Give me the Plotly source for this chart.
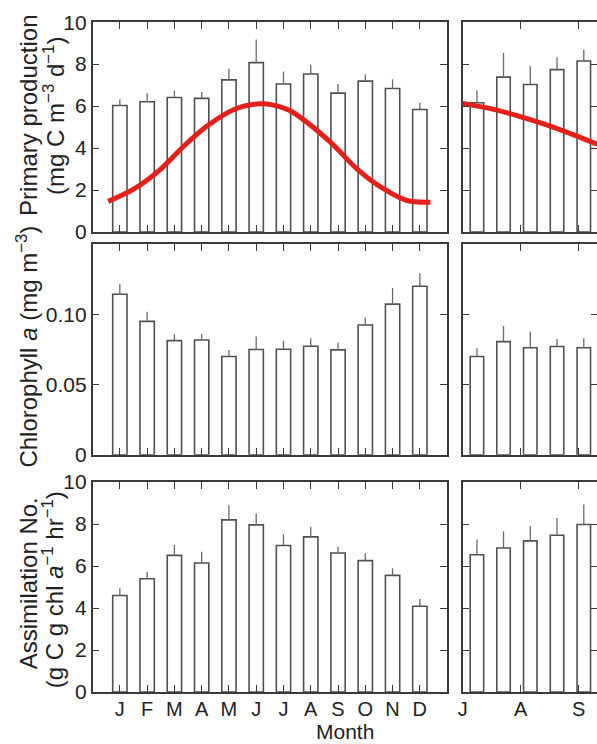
import plotly.graph_objects as go

# ---------------- data ----------------
months = ["J", "F", "M", "A", "M", "J", "J", "A", "S", "O", "N", "D"]
month_pos = list(range(1, 13))

pp_month = [6.03, 6.21, 6.41, 6.37, 7.25, 8.07, 7.05, 7.53, 6.62, 7.19, 6.84, 5.84]
pp_month_err = [0.30, 0.40, 0.33, 0.30, 0.54, 1.10, 0.60, 0.44, 0.43, 0.33, 0.44, 0.32]
pp_fit_x = [0.57, 1.52, 2.50, 3.36, 4.21, 5.19, 6.16, 7.14, 7.63, 8.73, 9.70, 10.68, 11.53, 12.39]
pp_fit_y = [1.46, 2.05, 3.00, 4.11, 5.06, 5.84, 6.11, 5.84, 5.45, 4.27, 3.00, 2.05, 1.50, 1.42]

chl_month = [0.1143, 0.0950, 0.0813, 0.0818, 0.0700, 0.0750, 0.0752, 0.0773, 0.0747, 0.0924, 0.1073, 0.1200]
chl_month_err = [0.0076, 0.0068, 0.0045, 0.0043, 0.0047, 0.0092, 0.0060, 0.0057, 0.0052, 0.0052, 0.0115, 0.0094]

an_month = [4.60, 5.40, 6.51, 6.15, 8.20, 7.96, 6.98, 7.39, 6.62, 6.26, 5.56, 4.09]
an_month_err = [0.35, 0.33, 0.49, 0.53, 0.70, 0.54, 0.54, 0.48, 0.30, 0.35, 0.34, 0.34]

# right-hand panels: days from 1 July
period_labels = ["J", "A", "S"]
period_ticks = [0, 31, 62]
period_pos = [7.6, 21.8, 36.1, 50.4, 64.7]

pp_period = [6.16, 7.38, 7.03, 7.74, 8.15]
pp_period_err = [0.60, 1.15, 0.87, 0.59, 0.54]
pp_period_fit_x = [0.0, 18.2, 32.6, 50.5, 72.0]
pp_period_fit_y = [6.13, 5.81, 5.45, 4.93, 4.18]

chl_period = [0.0700, 0.0806, 0.0762, 0.0771, 0.0762]
chl_period_err = [0.0059, 0.0111, 0.0115, 0.0054, 0.0068]

an_period = [6.54, 6.86, 7.20, 7.47, 7.98]
an_period_err = [0.73, 0.80, 0.71, 0.82, 0.95]

# ---------------- styling ----------------
FONT = "Liberation Sans, Arial, Helvetica, sans-serif"
AX = "#3a3a3a"
BAR_LINE = "#505050"
ERR = "#6a6a6a"
RED = "#e3201c"

# figure size and the screen-to-figure mapping observed for this page
W, H = 600, 755
KX, CX = 0.988, 4.8
KY, CY = 0.975, 9.0


def fx(r):
    return r / KX - CX


def fy(r):
    return r / KY - CY


def px_x(a, b):
    return [fx(a) / W, min(1.0, fx(b) / W)]


def px_y(top, bottom):
    return [max(0.0, 1 - fy(bottom) / H), min(1.0, 1 - fy(top) / H)]


fig = go.Figure()


def add_bars(x, y, err, width, xa, ya):
    fig.add_trace(go.Bar(
        x=x, y=y, width=width, xaxis=xa, yaxis=ya,
        marker=dict(color="white", line=dict(color=BAR_LINE, width=1.6)),
        error_y=dict(type="data", symmetric=False, array=err,
                     arrayminus=[0] * len(err), width=0, thickness=1.3, color=ERR),
        showlegend=False, hoverinfo="x+y",
    ))


def add_line(x, y, xa, ya):
    fig.add_trace(go.Scatter(
        x=x, y=y, xaxis=xa, yaxis=ya, mode="lines",
        line=dict(color=RED, width=5, shape="spline", smoothing=1.0),
        showlegend=False, hoverinfo="skip",
    ))


bw_m = 0.525
bw_p = 7.2

add_bars(month_pos, pp_month, pp_month_err, bw_m, "x", "y")
add_line(pp_fit_x, pp_fit_y, "x", "y")
add_bars(period_pos, pp_period, pp_period_err, bw_p, "x2", "y2")
add_line(pp_period_fit_x, pp_period_fit_y, "x2", "y2")

add_bars(month_pos, chl_month, chl_month_err, bw_m, "x3", "y3")
add_bars(period_pos, chl_period, chl_period_err, bw_p, "x4", "y4")

add_bars(month_pos, an_month, an_month_err, bw_m, "x5", "y5")
add_bars(period_pos, an_period, an_period_err, bw_p, "x6", "y6")

common = dict(showline=True, linecolor=AX, linewidth=1.5, mirror="allticks",
              ticks="inside", ticklen=7, tickcolor=AX, tickwidth=1.2,
              showgrid=False, zeroline=False, fixedrange=True,
              tickfont=dict(family=FONT, size=21, color="#222"))
xfont = dict(family=FONT, size=20, color="#222")

xL = px_x(92.3, 446.7)
xR = px_x(462.3, 597)
rows = [px_y(19, 230), px_y(242.3, 454), px_y(481.5, 692.7)]

# right panel range extends to the right edge of the figure
right_days = 72.0 * (W - xR[0] * W) / (fx(597) - fx(462.3))

ten_ticks = [0, 2, 4, 6, 8, 10]
chl_ticks = [0, 0.05, 0.10]
chl_text = ["0", "0.05", "0.10"]

xR_full = [xR[0], 1.0]

layout = dict(
    width=W, height=H, margin=dict(l=0, r=0, t=0, b=0),
    paper_bgcolor="white", plot_bgcolor="white",
    font=dict(family=FONT, color="#222"),
)

for i, (xa, ya, ydom) in enumerate([("xaxis", "yaxis", rows[0]),
                                   ("xaxis3", "yaxis3", rows[1]),
                                   ("xaxis5", "yaxis5", rows[2])]):
    n = [1, 3, 5][i]
    layout[xa] = dict(common, domain=xL, range=[0, 13], tickvals=month_pos,
                      ticktext=months, showticklabels=(i == 2),
                      tickfont=xfont, ticklabelstandoff=-2,
                      anchor="y" if n == 1 else f"y{n}")
    if i == 1:
        layout[ya] = dict(common, domain=ydom, range=[0, 0.15], tickvals=chl_ticks,
                          ticktext=chl_text, anchor="x" if n == 1 else f"x{n}")
    else:
        layout[ya] = dict(common, domain=ydom, range=[0, 10], tickvals=ten_ticks,
                          anchor="x" if n == 1 else f"x{n}")

for i, (xa, ya, ydom) in enumerate([("xaxis2", "yaxis2", rows[0]),
                                   ("xaxis4", "yaxis4", rows[1]),
                                   ("xaxis6", "yaxis6", rows[2])]):
    n = [2, 4, 6][i]
    layout[xa] = dict(common, domain=xR_full, range=[0, right_days], tickvals=period_ticks,
                      ticktext=period_labels, showticklabels=(i == 2),
                      tickfont=xfont, ticklabelstandoff=-2,
                      anchor=f"y{n}")
    if i == 1:
        layout[ya] = dict(common, domain=ydom, range=[0, 0.15], tickvals=chl_ticks,
                          showticklabels=False, anchor=f"x{n}")
    else:
        layout[ya] = dict(common, domain=ydom, range=[0, 10], tickvals=ten_ticks,
                          showticklabels=False, anchor=f"x{n}")

fig.update_layout(**layout)


def vtext(text, xpx, ypx, size=24):
    fig.add_annotation(text=text, xref="paper", yref="paper",
                       x=fx(xpx) / W, y=1 - fy(ypx) / H,
                       xanchor="center", yanchor="middle",
                       textangle=-90, showarrow=False,
                       font=dict(family=FONT, size=size, color="#222"))


vtext("Primary production", 28, 113)
vtext("(mg C m<sup>−3</sup> d<sup>−1</sup>)", 53, 113)
vtext("Chlorophyll <i>a</i> (mg m<sup>−3</sup>)", 27, 345)
vtext("Assimilation No.", 28, 583)
vtext("(g C g chl <i>a</i><sup>−1</sup> hr<sup>−1</sup>)", 53, 590)

fig.add_annotation(text="Month", xref="paper", yref="paper",
                   x=fx(345) / W, y=1 - fy(732) / H,
                   xanchor="center", yanchor="middle", showarrow=False,
                   font=dict(family=FONT, size=21, color="#222"))

fig.write_html("out.html", config={"displayModeBar": False})
